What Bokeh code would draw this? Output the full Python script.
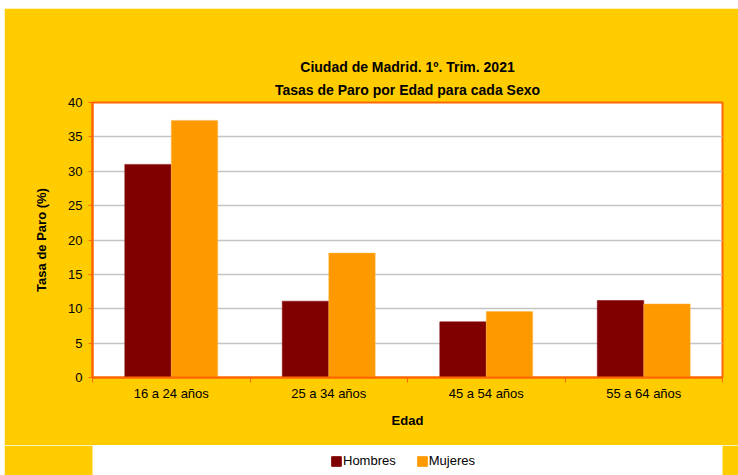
import numpy as np
from bokeh.plotting import figure
from bokeh.layouts import column
from bokeh.models import (ColumnDataSource, FixedTicker, Legend, LegendItem, Title, Range1d)
from bokeh.transform import dodge
from bokeh.embed import file_html
from bokeh.resources import INLINE

categories = ["16 a 24 años", "25 a 34 años", "45 a 54 años", "55 a 64 años"]
hombres = [31.0, 11.1, 8.1, 11.2]
mujeres = [37.4, 18.1, 9.6, 10.7]
series_names = ["Hombres", "Mujeres"]
y_ticks = [0, 5, 10, 15, 20, 25, 30, 35, 40]
title_lines = ["Ciudad de Madrid. 1º. Trim. 2021", "Tasas de Paro por Edad para cada Sexo"]

FONT = "Liberation Sans"
YELLOW = "#FFCC00"
ORANGE_LINE = "#FF6600"
C_H = "#800000"
C_M = "#FF9900"

pos = np.arange(len(categories)) + 0.5
src = ColumnDataSource(dict(pos=pos, h=hombres, m=mujeres))

p = figure(width=734, height=437, output_backend="svg", toolbar_location=None,
           x_range=Range1d(0, len(categories)), y_range=Range1d(0, 40),
           min_border_left=88, min_border_right=16, min_border_top=94, min_border_bottom=68)
p.background_fill_color = "white"
p.border_fill_color = YELLOW
p.outline_line_color = ORANGE_LINE
p.outline_line_width = 2

bw = 0.295
rh = p.vbar(x=dodge("pos", -bw / 2, range=p.x_range), top="h", width=bw, bottom=0, source=src,
            fill_color=C_H, line_color=C_H, line_width=0.5)
rm = p.vbar(x=dodge("pos", bw / 2, range=p.x_range), top="m", width=bw, bottom=0, source=src,
            fill_color=C_M, line_color="#FFB84D", line_width=0.5)

# grid
p.xgrid.grid_line_color = None
p.ygrid.grid_line_color = "#C4C4C4"
p.ygrid.grid_line_width = 1.5
p.ygrid.ticker = FixedTicker(ticks=y_ticks)

# y axis
ya = p.yaxis[0]
ya.ticker = FixedTicker(ticks=y_ticks)
ya.axis_label = "Tasa de Paro (%)"
ya.axis_label_text_font = FONT
ya.axis_label_text_font_style = "bold"
ya.axis_label_text_font_size = "13px"
ya.axis_label_text_color = "black"
ya.axis_label_standoff = 16
ya.major_label_text_font = FONT
ya.major_label_text_font_size = "13px"
ya.major_label_text_color = "black"
ya.major_label_standoff = 6
ya.axis_line_color = ORANGE_LINE
ya.axis_line_width = 2
ya.major_tick_line_color = ORANGE_LINE
ya.major_tick_out = 4
ya.major_tick_in = 0
ya.minor_tick_line_color = None

# x axis
xa = p.xaxis[0]
xa.ticker = FixedTicker(ticks=list(pos), minor_ticks=list(range(len(categories) + 1)))
xa.major_label_overrides = {float(v): c for v, c in zip(pos, categories)}
xa.major_label_text_font = FONT
xa.major_label_text_font_size = "13px"
xa.major_label_text_color = "black"
xa.major_label_standoff = 2
xa.major_tick_line_color = None
xa.minor_tick_line_color = ORANGE_LINE
xa.minor_tick_out = 5
xa.minor_tick_in = 0
xa.axis_line_color = ORANGE_LINE
xa.axis_line_width = 2
xa.axis_label = "Edad"
xa.axis_label_text_font = FONT
xa.axis_label_text_font_style = "bold"
xa.axis_label_text_font_size = "13px"
xa.axis_label_text_color = "black"
xa.axis_label_standoff = 9

# title (two centered lines; first added sits closest to the frame)
for line, so in [(title_lines[1], 9), (title_lines[0], 1)]:
    p.add_layout(Title(text=line, align="center", text_font=FONT, text_font_size="14px",
                       text_font_style="bold", text_color="black", standoff=so), "above")

# legend strip (same yellow background), bars kept out of its visible range
lg = figure(width=734, height=30, output_backend="svg", toolbar_location=None,
            x_range=Range1d(0, len(categories)), y_range=Range1d(1000, 1001),
            min_border_left=0, min_border_right=0, min_border_top=0, min_border_bottom=0)
lg.background_fill_alpha = 0
lg.border_fill_color = YELLOW
lg.outline_line_color = None
lg.axis.visible = False
lg.grid.grid_line_color = None
lh = lg.vbar(x="pos", top="h", width=bw, bottom=0, source=src, fill_color=C_H, line_color=C_H)
lm = lg.vbar(x="pos", top="m", width=bw, bottom=0, source=src, fill_color=C_M, line_color=C_M)
legend = Legend(items=[LegendItem(label=series_names[0], renderers=[lh]),
                       LegendItem(label=series_names[1], renderers=[lm])],
                orientation="horizontal", location=(238, 7),
                background_fill_alpha=0, border_line_color=None,
                label_text_font=FONT, label_text_font_size="13px", label_text_color="black",
                glyph_width=12, glyph_height=12, label_standoff=1, spacing=20,
                padding=0, margin=0)
lg.add_layout(legend, "center")

layout = column(p, lg, spacing=0)
layout.styles = {"margin-left": "4px", "margin-top": "8px"}

open("out.html", "w").write(file_html(layout, INLINE))
